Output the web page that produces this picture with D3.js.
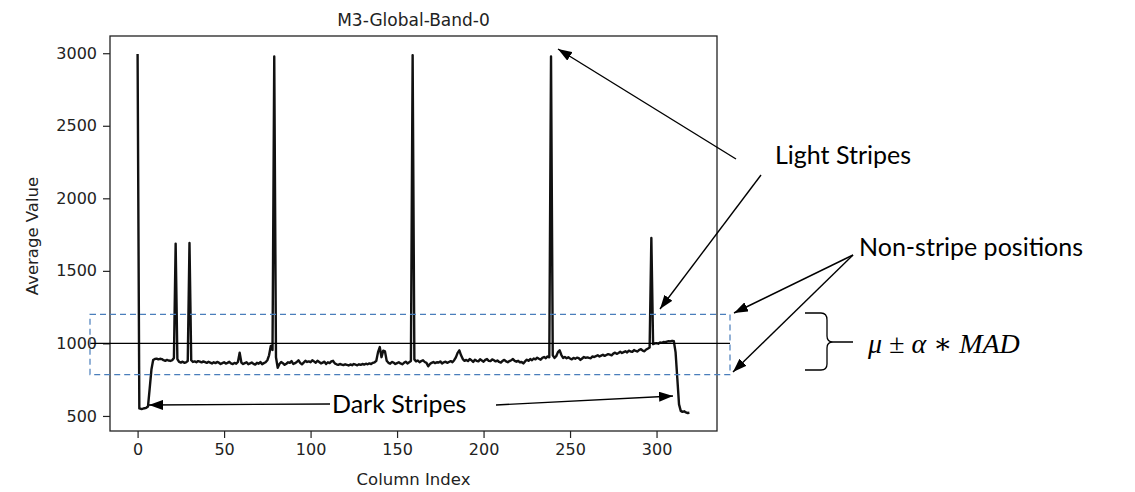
<!DOCTYPE html>
<html>
<head>
<meta charset="utf-8">
<script src="https://cdn.jsdelivr.net/npm/d3@7"></script>
<style>
  body { margin: 0; background: #fff; }
  svg { display: block; }
</style>
</head>
<body>
<svg id="chart"></svg>
<script>
// average value per column (columns 0..319)
var values = [
  2995, 552, 548, 550, 553, 556, 565, 690, 820, 885, 893, 895, 890, 894, 892, 884, 880, 886, 882, 879,
  884, 900, 1688, 892, 872, 868, 874, 866, 870, 878, 1692, 884, 872, 876, 870, 878, 874, 869, 876, 871,
  866, 873, 868, 862, 870, 864, 872, 867, 858, 864, 870, 861, 866, 873, 862, 857, 866, 860, 872, 936,
  868, 858, 864, 870, 856, 862, 868, 859, 854, 866, 860, 872, 857, 864, 870, 884, 918, 982, 955, 2977,
  905, 832, 858, 872, 864, 852, 860, 870, 866, 878, 858, 864, 872, 884, 866, 856, 868, 880, 872, 876,
  870, 884, 876, 866, 880, 872, 862, 868, 874, 858, 870, 864, 876, 880, 862, 856, 852, 858, 854, 850,
  856, 852, 848, 855, 850, 858, 853, 849, 856, 852, 858, 854, 860, 856, 862, 858, 866, 870, 880, 940,
  975, 905, 950, 945, 880, 866, 860, 872, 868, 858, 864, 870, 862, 856, 866, 874, 862, 870, 878, 2987,
  890, 876, 882, 870, 878, 884, 872, 866, 842, 858, 866, 872, 864, 870, 868, 876, 862, 870, 874, 866,
  872, 878, 870, 884, 904, 935, 952, 918, 892, 880, 886, 878, 892, 884, 872, 888, 880, 876, 890, 882,
  874, 886, 892, 880, 878, 890, 884, 876, 882, 872, 868, 880, 886, 876, 870, 878, 884, 892, 880, 874,
  880, 870, 872, 862, 876, 888, 880, 892, 884, 896, 890, 902, 894, 888, 900, 906, 898, 910, 904, 2977,
  918, 900, 912, 940, 952, 920, 900, 906, 898, 904, 896, 890, 900, 894, 902, 898, 886, 896, 906, 900,
  904, 900, 898, 910, 906, 912, 918, 910, 916, 922, 914, 920, 926, 922, 918, 930, 936, 928, 934, 942,
  934, 940, 946, 938, 950, 944, 942, 954, 948, 944, 956, 960, 950, 946, 958, 964, 972, 1726, 995, 1000,
  1002, 998, 1006, 1004, 1010, 1008, 1012, 1016, 1014, 1018, 1015, 940, 760, 580, 535, 528, 532, 524, 520, 522
];
var columns = values.map(function(d, i) { return i; });
var xTicks = [0, 50, 100, 150, 200, 250, 300];
var yTicks = [500, 1000, 1500, 2000, 2500, 3000];
var bandMid = 1000, bandLow = 785, bandHigh = 1200;

var width = 1135, height = 492;
var plotLeft = 110, plotRight = 717, plotTop = 36, plotBottom = 431;

var svg = d3.select("#chart").attr("width", width).attr("height", height);

// matplotlib style 5% margins
var xMin = d3.min(columns), xMax = d3.max(columns);
var yMin = d3.min(values), yMax = d3.max(values);
var xPad = (xMax - xMin) * 0.05, yPad = (yMax - yMin) * 0.05;

var x = d3.scaleLinear().domain([xMin - xPad, xMax + xPad]).range([plotLeft, plotRight]);
var y = d3.scaleLinear().domain([yMin - yPad, yMax + yPad]).range([plotBottom, plotTop]);

var tickFont = "DejaVu Sans, sans-serif";

var xAxis = svg.append("g")
    .attr("transform", "translate(0," + plotBottom + ")")
    .call(d3.axisBottom(x).tickValues(xTicks).tickFormat(d3.format("d"))
        .tickSize(7).tickPadding(6).tickSizeOuter(0));
var yAxis = svg.append("g")
    .attr("transform", "translate(" + plotLeft + ",0)")
    .call(d3.axisLeft(y).tickValues(yTicks).tickFormat(d3.format("d"))
        .tickSize(7).tickPadding(6).tickSizeOuter(0));

[xAxis, yAxis].forEach(function(ax) {
    ax.select(".domain").remove();
    ax.selectAll("line").attr("stroke", "#222").attr("stroke-width", 1.2);
    ax.selectAll("text").attr("fill", "#222")
        .style("font-family", tickFont).style("font-size", "16px");
});

// frame
svg.append("rect")
    .attr("x", plotLeft).attr("y", plotTop)
    .attr("width", plotRight - plotLeft).attr("height", plotBottom - plotTop)
    .attr("fill", "none").attr("stroke", "#222").attr("stroke-width", 1.3);

var line = d3.line()
    .x(function(d, i) { return x(columns[i]); })
    .y(function(d) { return y(d); });

svg.append("path")
    .datum(values)
    .attr("d", line)
    .attr("fill", "none")
    .attr("stroke", "#111")
    .attr("stroke-width", 2.4)
    .attr("stroke-linejoin", "round");

svg.append("text")
    .attr("x", (plotLeft + plotRight) / 2).attr("y", 26)
    .attr("text-anchor", "middle")
    .style("font-family", tickFont).style("font-size", "17px")
    .attr("fill", "#222")
    .text("M3-Global-Band-0");

svg.append("text")
    .attr("x", (plotLeft + plotRight) / 2).attr("y", 485)
    .attr("text-anchor", "middle")
    .style("font-family", tickFont).style("font-size", "16.5px")
    .attr("fill", "#222")
    .text("Column Index");

svg.append("text")
    .attr("transform", "translate(38,236) rotate(-90)")
    .attr("text-anchor", "middle")
    .style("font-family", tickFont).style("font-size", "16.5px")
    .attr("fill", "#222")
    .text("Average Value");

// ---- annotation layer ----
var ann = svg.append("g");

// mean line and band box (extend past the axes like the overlay)
ann.append("line")
    .attr("x1", 90).attr("x2", 730)
    .attr("y1", y(bandMid)).attr("y2", y(bandMid))
    .attr("stroke", "#000").attr("stroke-width", 1.3);

ann.append("rect")
    .attr("x", 90).attr("y", y(bandHigh))
    .attr("width", 640).attr("height", y(bandLow) - y(bandHigh))
    .attr("fill", "none")
    .attr("stroke", "#4a7ebb").attr("stroke-width", 1.2)
    .attr("stroke-dasharray", "6,4");

svg.append("defs").append("marker")
    .attr("id", "head")
    .attr("markerUnits", "userSpaceOnUse")
    .attr("viewBox", "0 0 14 10")
    .attr("refX", 14).attr("refY", 5)
    .attr("markerWidth", 14).attr("markerHeight", 10)
    .attr("orient", "auto")
    .append("path")
    .attr("d", "M0,0 L14,5 L0,10 Z")
    .attr("fill", "#000");

var arrows = [
    [330, 404, 149, 405],
    [496, 405, 673, 396],
    [736, 159, 558, 49],
    [761, 175, 660, 309],
    [853, 255, 734, 313],
    [853, 255, 733, 372]
];
ann.selectAll("line.arrow")
    .data(arrows)
    .enter()
    .append("line")
    .attr("class", "arrow")
    .attr("x1", function(d) { return d[0]; })
    .attr("y1", function(d) { return d[1]; })
    .attr("x2", function(d) { return d[2]; })
    .attr("y2", function(d) { return d[3]; })
    .attr("stroke", "#000").attr("stroke-width", 1.4)
    .attr("marker-end", "url(#head)");

var labelFont = "Lato, 'Open Sans', sans-serif";
ann.append("text").attr("x", 332).attr("y", 413)
    .style("font-family", labelFont).style("font-size", "25px")
    .text("Dark Stripes");
ann.append("text").attr("x", 775).attr("y", 164)
    .style("font-family", labelFont).style("font-size", "25px")
    .text("Light Stripes");
ann.append("text").attr("x", 859).attr("y", 256)
    .style("font-family", labelFont).style("font-size", "25px")
    .text("Non-stripe positions");

// curly brace
ann.append("path")
    .attr("d", "M805,313 L821,313 Q827,313 827,320 L827,336 Q827,342 833,342 L853,342 " +
               "M833,342 Q827,342 827,348 L827,364 Q827,370 821,370 L805,370")
    .attr("fill", "none").attr("stroke", "#000").attr("stroke-width", 1.3);

ann.append("text").attr("x", 868).attr("y", 353)
    .style("font-family", "'Liberation Serif', 'DejaVu Serif', serif")
    .style("font-style", "italic").style("font-size", "28px")
    .attr("xml:space", "preserve")
    .text("\u03bc \u00b1 \u03b1 \u2217 MAD");
</script>
</body>
</html>
